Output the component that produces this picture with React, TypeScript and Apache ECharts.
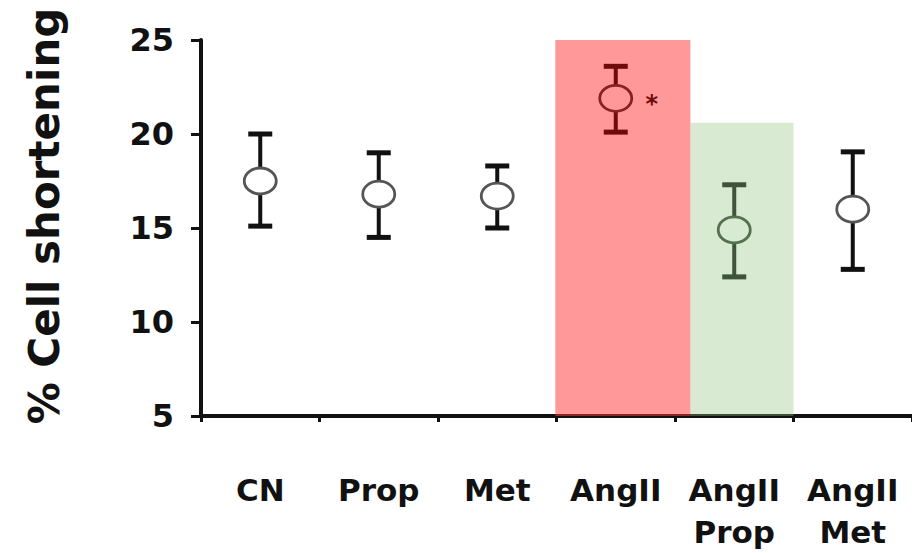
import React, { useEffect, useRef } from "react";
import * as echarts from "echarts";

const categories = ["CN", "Prop", "Met", "AngII", "AngII\nProp", "AngII\nMet"];
const means = [17.5, 16.8, 16.7, 21.9, 14.9, 16.0];
const upper = [20.0, 19.0, 18.3, 23.6, 17.3, 19.05];
const lower = [15.1, 14.5, 15.0, 20.1, 12.4, 12.8];
const markers = ["", "", "", "*", "", ""];
const yTicks = [5, 10, 15, 20, 25];

// shaded backgrounds (x in category units: 0..6)
const shadeStart = [2.99, 4.13];
const shadeEnd = [4.13, 5.0];
const shadeTop = [25, 20.6];

const shadeColors = ["rgba(255,60,60,0.52)", "rgba(146,196,125,0.35)"];
const barColors = ["#111", "#111", "#111", "#6e0b0b", "#3e5339", "#111"];
const circleColors = ["#555", "#555", "#555", "#8a2020", "#55704f", "#555"];

const FONT = "'DejaVu Sans', sans-serif";

export default function App() {
  const ref = useRef<HTMLDivElement>(null);
  useEffect(() => {
    document.body.style.margin = "0";
    const chart = echarts.init(ref.current!, undefined, { renderer: "svg" });
    const pointData = categories.map((_, i) => [i, means[i], lower[i], upper[i]]);
    const shadeData = shadeStart.map((s, i) => [s, shadeEnd[i], shadeTop[i], i]);
    chart.setOption({
      animation: false,
      backgroundColor: "#fff",
      grid: { left: 201, top: 40, bottom: 135, right: 0, containLabel: false },
      xAxis: [
        {
          type: "category",
          data: categories,
          axisLine: { lineStyle: { color: "#111", width: 4 } },
          axisTick: { show: true, length: 6, lineStyle: { color: "#111", width: 3 } },
          axisLabel: {
            color: "#111",
            fontFamily: FONT,
            fontWeight: "bold",
            fontSize: 31,
            lineHeight: 42,
            margin: 53,
            interval: 0,
          },
          splitLine: { show: false },
        },
        { type: "value", min: 0, max: 6, show: false },
      ],
      yAxis: {
        type: "value",
        min: yTicks[0],
        max: yTicks[yTicks.length - 1],
        interval: 5,
        axisLine: { show: true, lineStyle: { color: "#111", width: 4 } },
        axisTick: { show: true, length: 10, lineStyle: { color: "#111", width: 3 } },
        axisLabel: {
          color: "#111",
          fontFamily: FONT,
          fontWeight: "bold",
          fontSize: 32,
          margin: 27,
        },
        splitLine: { show: false },
      },
      graphic: [
        {
          type: "text",
          x: 44,
          y: 216,
          rotation: Math.PI / 2,
          style: {
            text: "% Cell shortening",
            font: `bold 42px ${FONT}`,
            fill: "#111",
            align: "center",
            verticalAlign: "middle",
          },
        },
      ],
      series: [
        {
          type: "custom",
          xAxisIndex: 1,
          yAxisIndex: 0,
          z: 1,
          data: shadeData,
          renderItem: (params: any, api: any) => {
            const p0 = api.coord([api.value(0), api.value(2)]);
            const p1 = api.coord([api.value(1), yTicks[0]]);
            const idx = api.value(3);
            return {
              type: "rect",
              shape: { x: p0[0], y: p0[1], width: p1[0] - p0[0], height: p1[1] - p0[1] },
              style: { fill: shadeColors[idx] },
            };
          },
        },
        {
          type: "custom",
          xAxisIndex: 0,
          yAxisIndex: 0,
          z: 3,
          data: pointData,
          renderItem: (params: any, api: any) => {
            const i = params.dataIndex;
            const c = api.coord([api.value(0), api.value(1)]);
            const lo = api.coord([api.value(0), api.value(2)]);
            const hi = api.coord([api.value(0), api.value(3)]);
            const cx = c[0];
            const cy = c[1];
            const rx = 16;
            const ry = 13;
            const capW = 24;
            const capH = 5;
            const bc = barColors[i];
            const children: any[] = [
              { type: "line", shape: { x1: cx, y1: hi[1], x2: cx, y2: cy - ry }, style: { stroke: bc, lineWidth: 4 } },
              { type: "line", shape: { x1: cx, y1: cy + ry, x2: cx, y2: lo[1] }, style: { stroke: bc, lineWidth: 4 } },
              { type: "rect", shape: { x: cx - capW / 2, y: hi[1] - capH / 2, width: capW, height: capH }, style: { fill: bc } },
              { type: "rect", shape: { x: cx - capW / 2, y: lo[1] - capH / 2, width: capW, height: capH }, style: { fill: bc } },
              { type: "ellipse", shape: { cx, cy, rx, ry }, style: { fill: "none", stroke: circleColors[i], lineWidth: 2.8 } },
            ];
            if (markers[i]) {
              children.push({
                type: "text",
                x: cx + 36,
                y: cy + 6,
                style: {
                  text: markers[i],
                  font: `bold 24px ${FONT}`,
                  fill: bc,
                  align: "center",
                  verticalAlign: "middle",
                },
              });
            }
            return { type: "group", children };
          },
        },
      ],
    });
    return () => chart.dispose();
  }, []);
  return <div ref={ref} style={{ width: 912, height: 553 }} />;
}
